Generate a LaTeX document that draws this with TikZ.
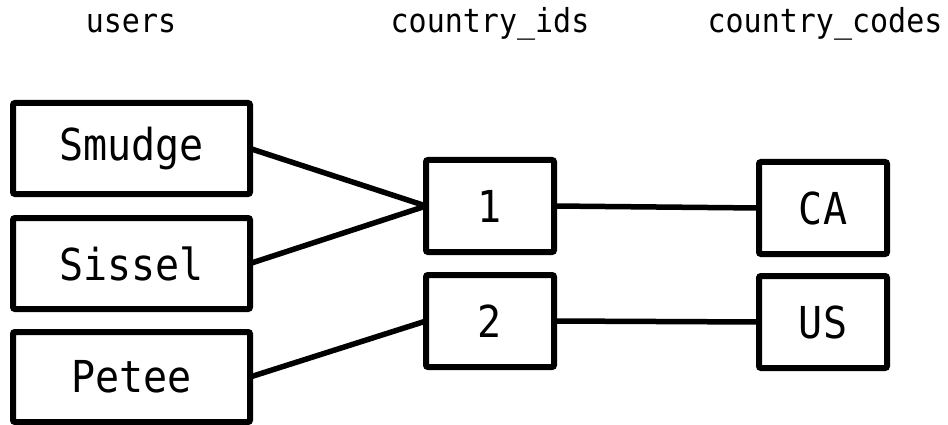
\documentclass[tikz,border=0pt]{standalone}
\usepackage{fontspec}
\usepackage{graphicx}
\setmonofont{DejaVu Sans Mono}
\newcommand\talltext[1]{\scalebox{1}[1.1]{#1}}
\begin{document}
\begin{tikzpicture}[x=1pt,y=-1pt,
  box/.style={draw=black,line width=6pt,rounded corners=2pt,inner sep=0pt,outer sep=0pt,
    font=\fontsize{40}{44}\selectfont\ttfamily},
  head/.style={anchor=base,inner sep=0pt,font=\fontsize{30}{34}\selectfont\ttfamily},
  link/.style={line width=5.5pt}]
\useasboundingbox (0,0) rectangle (948,425);
\node[head] (hu) at (131,33) {\talltext{users}};
\node[head] (hi) at (490,33) {\talltext{country\_ids}};
\node[head] (hc) at (825,33) {\talltext{country\_codes}};
\node[box,minimum width=237pt,minimum height=91pt] (smudge) at (131.5,148.5) {\talltext{Smudge}};
\node[box,minimum width=237pt,minimum height=91pt] (sissel) at (131.5,263.5) {\talltext{Sissel}};
\node[box,minimum width=237pt,minimum height=90pt] (petee) at (131.5,377) {\talltext{Petee}};
\node[box,minimum width=128pt,minimum height=92pt] (one) at (490,206) {\talltext{1}};
\node[box,minimum width=128pt,minimum height=92pt] (two) at (490,321) {\talltext{2}};
\node[box,minimum width=128pt,minimum height=92pt] (ca) at (823,208) {\talltext{CA}};
\node[box,minimum width=128pt,minimum height=92pt] (us) at (823,322) {\talltext{US}};
\draw[link] (smudge.east) -- (one.west);
\draw[link] (sissel.east) -- (one.west);
\draw[link] (petee.east) -- (two.west);
\draw[link] (one.east) -- (ca.west);
\draw[link] (two.east) -- (us.west);
\end{tikzpicture}
\end{document}
